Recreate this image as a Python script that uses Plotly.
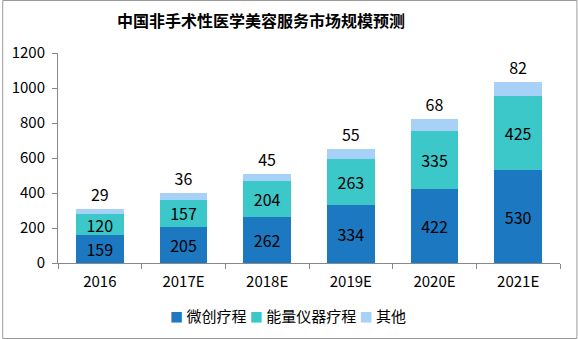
import plotly.graph_objects as go

categories = ["2016", "2017E", "2018E", "2019E", "2020E", "2021E"]
minimally_invasive = [159, 205, 262, 334, 422, 530]
energy_device = [120, 157, 204, 263, 335, 425]
other = [29, 36, 45, 55, 68, 82]
series_names = ["微创疗程", "能量仪器疗程", "其他"]
y_ticks = [0, 200, 400, 600, 800, 1000, 1200]

FONT = "Noto Sans CJK SC, Microsoft YaHei, sans-serif"
colors = ["#1C78C0", "#3CC8C8", "#A7D1F7"]

fig = go.Figure()
for name, vals, col, pos in zip(series_names, [minimally_invasive, energy_device, other], colors,
                                ["inside", "inside", "outside"]):
    fig.add_trace(go.Bar(
        x=categories, y=vals, name=name, marker=dict(color=col, line=dict(width=0)),
        text=[str(v) for v in vals], textposition=pos, insidetextanchor="middle",
        textfont=dict(family=FONT, size=16, color="#000000"),
        outsidetextfont=dict(family=FONT, size=16, color="#000000"),
        constraintext="none", cliponaxis=False, showlegend=False,
    ))

# compact legend drawn as one text line (series names + colour keys)
legend_text = "".join(
    f'<span style="color:{c};font-size:13px">■</span> {n}' + ("" if i == len(series_names) - 1 else " ")
    for i, (n, c) in enumerate(zip(series_names, colors))
)

fig.update_layout(
    barmode="stack", bargap=0.43,
    width=578, height=339,
    margin=dict(l=56, r=18, t=53, b=76),
    paper_bgcolor="white", plot_bgcolor="white",
    font=dict(family=FONT, size=15, color="#000000"),
    title=dict(text="<b>中国非手术性医学美容服务市场规模预测</b>", x=261 / 578, xanchor="center",
               y=1 - 21 / 339, yanchor="middle", font=dict(family=FONT, size=16, color="#000000")),
    showlegend=False,
    annotations=[dict(text=legend_text, xref="paper", yref="paper", x=(287 - 56) / 504,
                      y=(263 - 315) / 210, xanchor="center", yanchor="middle", showarrow=False,
                      font=dict(family=FONT, size=15, color="#000000"))],
)
fig.update_xaxes(
    showline=True, linecolor="#888888", linewidth=1,
    ticks="outside", tickson="boundaries", ticklen=5, tickcolor="#888888",
    ticklabelstandoff=5,
    tickfont=dict(family=FONT, size=15, color="#000000"), showgrid=False,
)
fig.update_yaxes(
    range=[0, 1200], tickvals=y_ticks, showline=True, linecolor="#888888", linewidth=1,
    ticks="outside", ticklen=5, tickcolor="#888888", showgrid=False, zeroline=False,
    ticklabelstandoff=4,
    tickfont=dict(family=FONT, size=15, color="#000000"),
)
fig.add_shape(type="rect", xref="paper", yref="paper", x0=-55.5/504, x1=1+17/504,
              y0=-75.5/210, y1=1+52.5/210, line=dict(color="#9a9a9a", width=1))
fig.write_html("out.html")
